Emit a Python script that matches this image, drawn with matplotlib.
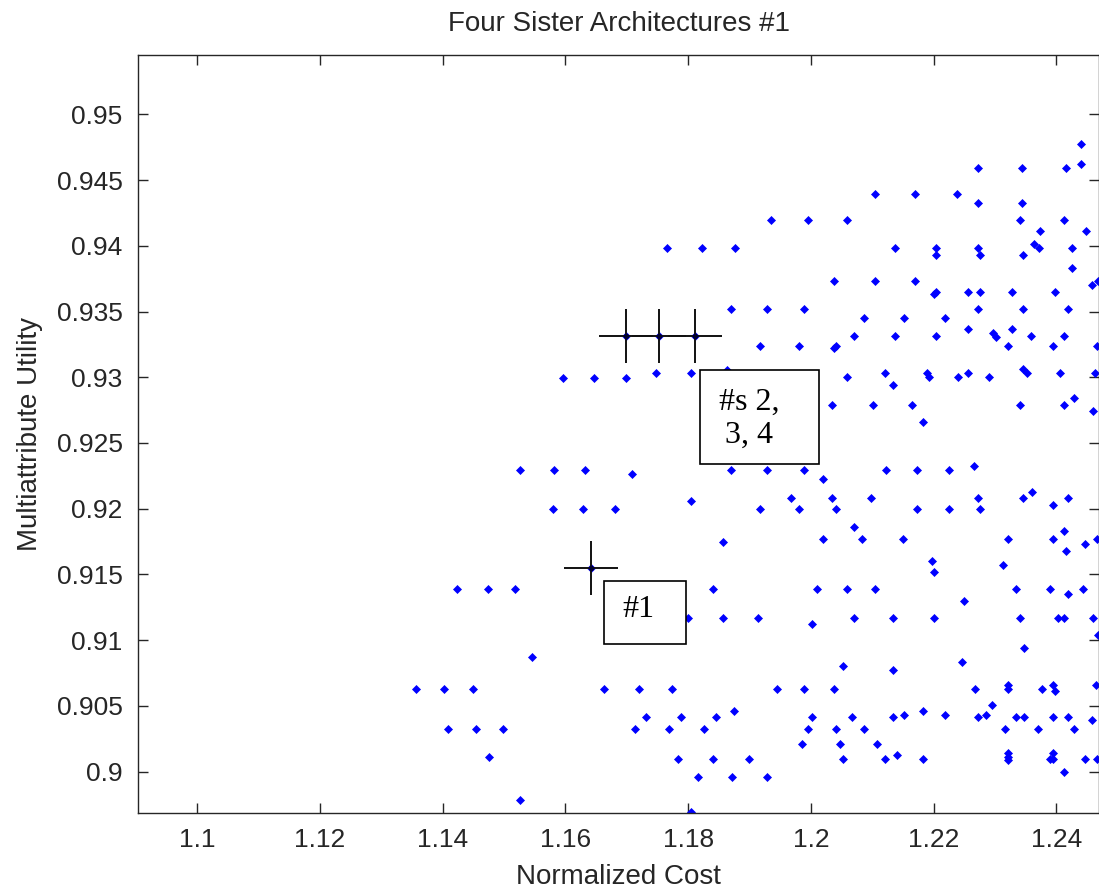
import matplotlib
matplotlib.use('Agg')
import matplotlib.pyplot as plt
from matplotlib.patches import Rectangle

# ---------------- data ----------------
cost = [
    1.1935, 1.1765, 1.1823, 1.1877, 1.1869, 1.1928,
    1.2440, 1.2440, 1.2273, 1.2344, 1.2415, 1.2104, 1.2170, 1.2238, 1.2273, 1.2344,
    1.1996, 1.2059, 1.2340, 1.2412, 1.2374, 1.2449, 1.2137, 1.2204, 1.2204, 1.2273,
    1.2276, 1.2364, 1.2371, 1.2346, 1.2425, 1.2425, 1.2038, 1.2104, 1.2170, 1.2201,
    1.2204, 1.2256, 1.2276, 1.2328, 1.2397, 1.2458, 1.2468, 1.1989, 1.2273, 1.2346,
    1.2419, 1.2086, 1.2152, 1.2219,
    1.1699, 1.1753, 1.1811, 1.1642,
    1.1917, 1.1596, 1.1647, 1.1699, 1.1748, 1.1805, 1.1863, 1.1526, 1.1582, 1.1632,
    1.1708, 1.1869, 1.1928, 1.1579, 1.1629, 1.1680, 1.1805, 1.1917, 1.1857,
    1.2256, 1.2297, 1.2302, 1.2328, 1.2071, 1.2137, 1.2204, 1.2358, 1.2412, 1.1980,
    1.2038, 1.2041, 1.2322, 1.2394, 1.2466, 1.2059, 1.2120, 1.2134, 1.2189, 1.2192,
    1.2240, 1.2256, 1.2291, 1.2346, 1.2352, 1.2406, 1.2463, 1.2034, 1.2101, 1.2165,
    1.2183, 1.2340, 1.2412, 1.2428, 1.2460, 1.1989, 1.2019, 1.2122, 1.2173, 1.2225,
    1.2265, 1.1968, 1.1980, 1.2034, 1.2041, 1.2098, 1.2173, 1.2225, 1.2273, 1.2276,
    1.2346, 1.2361, 1.2394, 1.2419, 1.2071, 1.2019, 1.2083, 1.2150, 1.2322, 1.2394,
    1.2412, 1.2416, 1.2446, 1.2466, 1.2198, 1.2201, 1.2313,
    1.1424, 1.1357, 1.1402, 1.1409,
    1.1473, 1.1518, 1.1841, 1.1800, 1.1856, 1.1914, 1.1545, 1.1450, 1.1663, 1.1720,
    1.1774, 1.1945, 1.1732, 1.1789, 1.1846, 1.1874, 1.1454, 1.1499, 1.1713, 1.1769,
    1.1826, 1.1475, 1.1783, 1.1841, 1.1899, 1.1816, 1.1871, 1.1929, 1.1526, 1.1804,
    1.2010, 1.2059, 1.2104, 1.2249, 1.2334, 1.2389, 1.2419, 1.2443, 1.2001, 1.2071,
    1.2134, 1.2201, 1.2340, 1.2403, 1.2412, 1.2460, 1.2468, 1.2347, 1.2053, 1.2134,
    1.2246, 1.1989, 1.2038, 1.2267, 1.2322, 1.2322, 1.2377, 1.2394, 1.2397, 1.2464,
    1.2001, 1.1996, 1.1986, 1.2041, 1.2067, 1.2047, 1.2053, 1.2087, 1.2107, 1.2120,
    1.2134, 1.2140, 1.2152, 1.2183, 1.2183, 1.2219, 1.2273, 1.2286, 1.2295, 1.2316,
    1.2322, 1.2322, 1.2322, 1.2334, 1.2347, 1.2370, 1.2394, 1.2419, 1.2428, 1.2458,
    1.2389, 1.2394, 1.2395, 1.2412, 1.2446, 1.2466,
]
utility = [
    0.94198, 0.93985, 0.93985, 0.93985, 0.93519, 0.93519,
    0.94776, 0.94622, 0.94592, 0.94592, 0.94592, 0.94396, 0.94396, 0.94396, 0.94325, 0.94325,
    0.94198, 0.94198, 0.94198, 0.94198, 0.94115, 0.94115, 0.93985, 0.93985, 0.93928, 0.93985,
    0.93928, 0.94016, 0.93985, 0.93928, 0.93985, 0.93831, 0.93732, 0.93732, 0.93732, 0.93636,
    0.93648, 0.93648, 0.93648, 0.93648, 0.93648, 0.93704, 0.93732, 0.93519, 0.93519, 0.93519,
    0.93519, 0.93453, 0.93453, 0.93453,
    0.93314, 0.93314, 0.93314, 0.91552,
    0.93240, 0.92997, 0.92997, 0.92997, 0.93030, 0.93030, 0.93058, 0.92295, 0.92295, 0.92295,
    0.92266, 0.92295, 0.92295, 0.91996, 0.91996, 0.91996, 0.92057, 0.91996, 0.91745,
    0.93367, 0.93339, 0.93309, 0.93367, 0.93312, 0.93312, 0.93312, 0.93312, 0.93312, 0.93240,
    0.93225, 0.93240, 0.93240, 0.93240, 0.93240, 0.93000, 0.93030, 0.92943, 0.93030, 0.93000,
    0.93000, 0.93030, 0.93000, 0.93061, 0.93030, 0.93030, 0.93030, 0.92787, 0.92787, 0.92787,
    0.92660, 0.92787, 0.92787, 0.92845, 0.92746, 0.92295, 0.92224, 0.92295, 0.92295, 0.92295,
    0.92325, 0.92082, 0.91996, 0.92082, 0.91996, 0.92082, 0.91996, 0.91996, 0.92082, 0.91996,
    0.92082, 0.92125, 0.92026, 0.92082, 0.91859, 0.91772, 0.91772, 0.91772, 0.91772, 0.91772,
    0.91831, 0.91676, 0.91730, 0.91772, 0.91605, 0.91521, 0.91574,
    0.91392, 0.90631, 0.90631, 0.90322,
    0.91392, 0.91392, 0.91392, 0.91169, 0.91169, 0.91169, 0.90872, 0.90631, 0.90631, 0.90631,
    0.90631, 0.90631, 0.90418, 0.90418, 0.90418, 0.90464, 0.90322, 0.90322, 0.90322, 0.90322,
    0.90322, 0.90112, 0.90097, 0.90097, 0.90097, 0.89957, 0.89957, 0.89957, 0.89785, 0.89691,
    0.91392, 0.91392, 0.91392, 0.91296, 0.91392, 0.91392, 0.91349, 0.91392, 0.91123, 0.91169,
    0.91169, 0.91169, 0.91169, 0.91169, 0.91169, 0.91169, 0.91042, 0.90943, 0.90804, 0.90771,
    0.90832, 0.90631, 0.90631, 0.90631, 0.90662, 0.90631, 0.90631, 0.90662, 0.90614, 0.90662,
    0.90418, 0.90322, 0.90208, 0.90322, 0.90418, 0.90208, 0.90097, 0.90322, 0.90208, 0.90097,
    0.90418, 0.90125, 0.90434, 0.90464, 0.90097, 0.90434, 0.90418, 0.90434, 0.90505, 0.90322,
    0.90145, 0.90114, 0.90089, 0.90418, 0.90418, 0.90322, 0.90418, 0.90418, 0.90322, 0.90393,
    0.90097, 0.90140, 0.90097, 0.89998, 0.90097, 0.90097,
]

# the four highlighted "sister" architectures
sister_cost = [1.1642, 1.1699, 1.1753, 1.1811]
sister_utility = [0.91552, 0.93314, 0.93314, 0.93314]

x_ticks = [1.10, 1.12, 1.14, 1.16, 1.18, 1.20, 1.22, 1.24]
x_tick_labels = ['1.1', '1.12', '1.14', '1.16', '1.18', '1.2', '1.22', '1.24']
y_ticks = [0.900, 0.905, 0.910, 0.915, 0.920, 0.925, 0.930, 0.935, 0.940, 0.945, 0.950]
y_tick_labels = ['0.9', '0.905', '0.91', '0.915', '0.92', '0.925', '0.93', '0.935',
                 '0.94', '0.945', '0.95']

title = 'Four Sister Architectures #1'
x_label = 'Normalized Cost'
y_label = 'Multiattribute Utility'
label_single = '#1'
label_group = '#s 2,\n3, 4'

# ---------------- figure ----------------
W, H = 1099, 892
fig = plt.figure(figsize=(W / 100, H / 100), dpi=100)
ax = fig.add_axes([138 / W, 1 - 812.7 / H, 961 / W, (812.7 - 55) / H])

sans = ['Liberation Sans', 'DejaVu Sans']
serif = ['Liberation Serif', 'DejaVu Serif']
ink = '#262626'

ax.plot(cost, utility, linestyle='none', marker='D', markersize=4.4,
        markerfacecolor='#0000ff', markeredgecolor='#0000ff', markeredgewidth=0.5,
        zorder=2)
ax.plot(sister_cost, sister_utility, linestyle='none', marker='+', markersize=39,
        markeredgewidth=1.4, color='#111111', zorder=3)
ax.plot(sister_cost, sister_utility, linestyle='none', marker='o', markersize=2.8,
        color='#000030', zorder=3.5)

ax.set_xlim(1.09034, 1.24695)
ax.set_ylim(0.89688, 0.95451)

ax.set_xticks(x_ticks)
ax.set_xticklabels(x_tick_labels, fontfamily=sans, fontsize=19, color=ink)
ax.set_yticks(y_ticks)
ax.set_yticklabels(y_tick_labels, fontfamily=sans, fontsize=19, color=ink)
ax.tick_params(direction='in', length=7, width=1.0, colors=ink, pad=11,
               top=True, right=True, labelcolor=ink)
for sp in ax.spines.values():
    sp.set_linewidth(1.0)
    sp.set_color(ink)

ax.set_title(title, fontfamily=sans, fontsize=20, color=ink, pad=17)
ax.set_xlabel(x_label, fontfamily=sans, fontsize=20, color=ink, labelpad=9)
ax.set_ylabel(y_label, fontfamily=sans, fontsize=20, color=ink, labelpad=10)

# annotation boxes
boxA = Rectangle((1.16628, 0.909736), 0.01341, 0.004791, facecolor='white',
                 edgecolor='black', linewidth=1.2, zorder=5)
boxB = Rectangle((1.18193, 0.92338), 0.01939, 0.007149, facecolor='white',
                 edgecolor='black', linewidth=1.2, zorder=5)
ax.add_patch(boxA)
ax.add_patch(boxB)
ax.text(1.17193, 0.9123, label_single, fontfamily=serif, fontsize=23,
        ha='center', va='center', zorder=6, color='black')
ax.text(1.18991, 0.92685, label_group, fontfamily=serif, fontsize=23,
        ha='center', va='center', multialignment='center', linespacing=1.2,
        zorder=6, color='black')

fig.savefig('out.png', dpi=100)
